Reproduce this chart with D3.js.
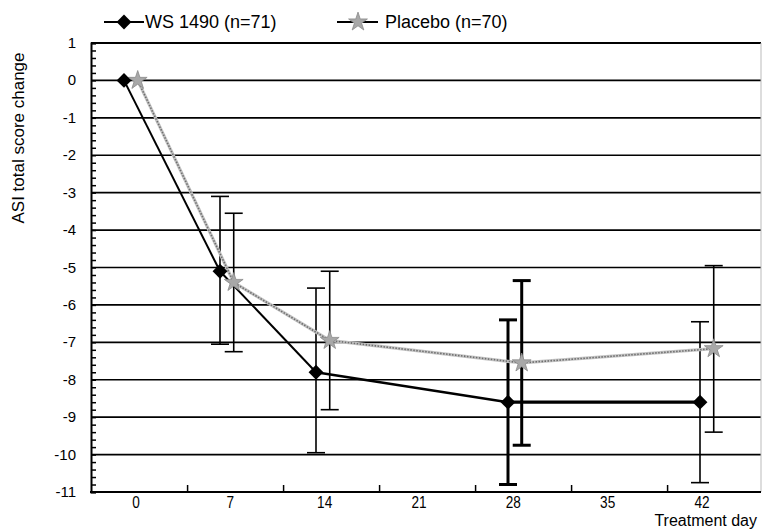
<!DOCTYPE html>
<html>
<head>
<meta charset="utf-8">
<script src="https://cdn.jsdelivr.net/npm/d3@7"></script>
<style>
  body { margin: 0; background: #fff; }
  text { font-family: "Liberation Sans", Arial, sans-serif; fill: #000; }
</style>
</head>
<body>
<script>
const width = 762,
  height = 530;

// visit days
const days = [0, 7, 14, 28, 42];

// WS 1490 group
const wsMean = [0, -5.1, -7.8, -8.6, -8.6];
const wsHigh = [null, -3.1, -5.55, -6.4, -6.45];
const wsLow = [null, -7.05, -9.95, -10.8, -10.75];

// placebo group
const pbMean = [0, -5.4, -6.95, -7.55, -7.17];
const pbHigh = [null, -3.55, -5.1, -5.35, -4.95];
const pbLow = [null, -7.25, -8.8, -9.75, -9.4];

const dayLabels = [0, 7, 14, 21, 28, 35, 42];
const dayTicks = [4.6, 11.6, 18.6, 25.6, 32.6, 39.6];
const yTicks = d3.range(1, -12, -1);

// placebo is drawn a little to the right of the same day
const pbShift = 1;

const plotLeft = 91,
  plotRight = 761,
  plotTop = 43,
  plotBottom = 492;

const x = d3.scaleLinear().domain([0, 42]).range([124, 700]);
// the printed day labels sit on a slightly different spacing than the points
const xLabel = d3.scaleLinear().domain([0, 42]).range([136, 702]);
const y = d3.scaleLinear().domain([1, -11]).range([plotTop, plotBottom]);

const svg = d3
  .select('body')
  .append('svg')
  .attr('width', width)
  .attr('height', height);

// horizontal grid lines
svg
  .append('g')
  .selectAll('line')
  .data(yTicks.filter(d => d < 1 && d > -11))
  .join('line')
  .attr('x1', plotLeft)
  .attr('x2', plotRight)
  .attr('y1', d => y(d))
  .attr('y2', d => y(d))
  .attr('stroke', '#000')
  .attr('stroke-width', 1.6);

// frame
svg.append('line').attr('x1', plotLeft).attr('x2', plotRight).attr('y1', plotTop).attr('y2', plotTop)
  .attr('stroke', '#000').attr('stroke-width', 2);
svg.append('line').attr('x1', plotRight).attr('x2', plotRight).attr('y1', plotTop).attr('y2', plotBottom)
  .attr('stroke', '#bbb').attr('stroke-width', 1);

// y axis with minor ticks pointing inward
const yAxis = d3
  .axisRight(y)
  .tickValues(d3.range(1, -11.01, -0.2))
  .tickSize(5)
  .tickFormat('');
const gy = svg.append('g').attr('transform', `translate(${plotLeft},0)`).call(yAxis);
gy.select('.domain').attr('stroke-width', 2);
gy.selectAll('.tick line').attr('stroke-width', 1.5);

svg
  .append('g')
  .selectAll('text')
  .data(yTicks)
  .join('text')
  .attr('x', 76)
  .attr('y', d => y(d) + 5)
  .attr('text-anchor', 'end')
  .style('font-size', '15px')
  .text(d => d);

// x axis
const xAxis = d3.axisTop(x).tickValues(dayTicks).tickSize(7).tickFormat('');
const gx = svg.append('g').attr('transform', `translate(0,${plotBottom})`).call(xAxis);
gx.select('.domain').remove();
gx.selectAll('.tick line').attr('stroke-width', 1.5);
svg.append('line').attr('x1', plotLeft - 1).attr('x2', plotRight).attr('y1', plotBottom).attr('y2', plotBottom)
  .attr('stroke', '#000').attr('stroke-width', 2);

svg
  .append('g')
  .selectAll('text')
  .data(dayLabels)
  .join('text')
  .attr('transform', d => `translate(${xLabel(d)},508) scale(0.8,1)`)
  .attr('text-anchor', 'middle')
  .style('font-size', '17px')
  .text(d => d);

svg.append('text').attr('x', 757).attr('y', 526).attr('text-anchor', 'end')
  .style('font-size', '16px').text('Treatment day');

svg.append('text')
  .attr('transform', 'translate(24,138) rotate(-90)')
  .attr('text-anchor', 'middle')
  .style('font-size', '17px')
  .text('ASI total score change');

// error bars
function errorBars(high, low, shift) {
  const rows = days
    .map((d, i) => ({ day: d + shift, hi: high[i], lo: low[i] }))
    .filter(r => r.hi !== null);
  const g = svg.append('g').attr('stroke', '#000');
  rows.forEach(r => {
    const w = r.day >= 28 && r.day < 42 ? 3 : 1.6;
    const cx = x(r.day);
    g.append('line').attr('x1', cx).attr('x2', cx).attr('y1', y(r.hi)).attr('y2', y(r.lo))
      .attr('stroke-width', w);
    [r.hi, r.lo].forEach(v => {
      g.append('line').attr('x1', cx - 9).attr('x2', cx + 9).attr('y1', y(v)).attr('y2', y(v))
        .attr('stroke-width', w);
    });
  });
}
errorBars(wsHigh, wsLow, 0);
errorBars(pbHigh, pbLow, pbShift);

// placebo line (dithered grey look)
const pbPts = days.map((d, i) => [x(d + pbShift), y(pbMean[i])]);
const line = d3.line();
svg.append('path').attr('d', line(pbPts)).attr('fill', 'none')
  .attr('stroke', '#c4c4c4').attr('stroke-width', 3.2);
svg.append('path').attr('d', line(pbPts)).attr('fill', 'none')
  .attr('stroke', '#6e6e6e').attr('stroke-width', 1.6).attr('stroke-dasharray', '1.5,1.5');

// WS line, segments drawn one by one (the last one is heavier)
const wsPts = days.map((d, i) => [x(d), y(wsMean[i])]);
d3.pairs(wsPts).forEach((p, i) => {
  svg.append('path').attr('d', line(p)).attr('fill', 'none')
    .attr('stroke', '#000').attr('stroke-width', i === 3 ? 3.2 : i === 2 ? 2.4 : 2);
});

const star = d3.symbol().type(d3.symbolStar).size(110);
const diamond = d3.symbol().type(d3.symbolSquare).size(110);

svg.append('g').selectAll('path').data(pbPts).join('path')
  .attr('transform', d => `translate(${d[0]},${d[1]})`)
  .attr('d', star)
  .attr('fill', '#a8a8a8')
  .attr('stroke', '#8a8a8a')
  .attr('stroke-width', 0.8);

svg.append('g').selectAll('path').data(wsPts).join('path')
  .attr('transform', d => `translate(${d[0]},${d[1]}) rotate(45)`)
  .attr('d', diamond)
  .attr('fill', '#000');

// legend
const lg = svg.append('g');
lg.append('line').attr('x1', 104).attr('x2', 144).attr('y1', 22).attr('y2', 22)
  .attr('stroke', '#000').attr('stroke-width', 2);
lg.append('path').attr('transform', 'translate(124,22) rotate(45)').attr('d', diamond).attr('fill', '#000');
lg.append('text').attr('x', 145).attr('y', 28).style('font-size', '18px').text('WS 1490 (n=71)');

lg.append('line').attr('x1', 337).attr('x2', 378).attr('y1', 22).attr('y2', 22)
  .attr('stroke', '#000').attr('stroke-width', 2);
lg.append('path').attr('transform', 'translate(358,22)').attr('d', star)
  .attr('fill', '#a8a8a8').attr('stroke', '#8a8a8a').attr('stroke-width', 0.8);
lg.append('text').attr('x', 385).attr('y', 28).style('font-size', '18px').text('Placebo (n=70)');
</script>
</body>
</html>
